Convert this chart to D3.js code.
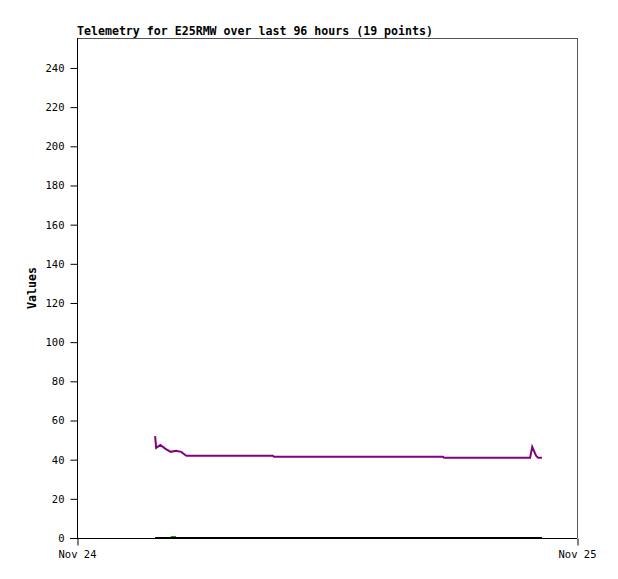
<!DOCTYPE html>
<html><head><meta charset="utf-8">
<script src="https://cdn.jsdelivr.net/npm/d3@7"></script>
<style>body{margin:0;background:#fff}svg{display:block}text{font-family:"DejaVu Sans Mono","Liberation Mono",monospace}</style>
</head><body><div id="c"></div>
<script>
const titleText = "Telemetry for E25RMW over last 96 hours (19 points)";
const yLabel = "Values";
const xDomain = ["2023-11-24T00:00", "2023-11-25T00:00"];
const xTickLabels = ["Nov 24", "Nov 25"];
const yTicks = [0,20,40,60,80,100,120,140,160,180,200,220,240];
const times = ["03:45","03:48","04:00","04:15","04:30","04:45","05:00","05:15","09:24","09:27","13:30","17:34","17:37","20:00","21:45","21:51","22:02","22:08","22:19"];
const purpleVals = [52,46,47.5,45.5,44,44.5,44,42,42,41.5,41.5,41.5,41,41,41,46.5,42,41,41];
const blackVals = [0,0,0,0,0,0,0,0,0,0,0,0,0,0,0,0,0,0,0];
const greenTimes = ["04:30","04:45"];
const greenVals = [0.5,0.5];

const W=618,H=579, m={l:77,r:41,t:38,b:41};
const svg=d3.select("#c").append("svg").attr("width",W).attr("height",H);
const parse=d3.timeParse("%Y-%m-%dT%H:%M");
const day="2023-11-24T";
const x=d3.scaleTime().domain(xDomain.map(parse)).range([m.l,W-m.r]);
const y=d3.scaleLinear().domain([0,255.3]).range([H-m.b,m.t]);

// frame
svg.append("line").attr("x1",m.l).attr("x2",W-m.r).attr("y1",m.t+0.5).attr("y2",m.t+0.5).attr("stroke","#555");
svg.append("line").attr("x1",W-m.r+0.5).attr("x2",W-m.r+0.5).attr("y1",m.t).attr("y2",H-m.b).attr("stroke","#555");

const ya=svg.append("g").attr("transform",`translate(${m.l+0.5},0)`)
  .call(d3.axisLeft(y).tickValues(yTicks).tickSize(7).tickPadding(6).tickFormat(d3.format("d")));
ya.select(".domain").attr("d",`M0,${m.t}V${H-m.b}`).attr("stroke","#000");
ya.selectAll("text").attr("font-size","10.5px").attr("fill","#000");

const xa=svg.append("g").attr("transform",`translate(0,${H-m.b+0.5})`)
  .call(d3.axisBottom(x).tickValues(xDomain.map(parse)).tickSize(7).tickPadding(5).tickFormat((d,i)=>xTickLabels[i]));
xa.select(".domain").attr("d",`M${m.l-7},0H${W-m.r}`).attr("stroke","#000");
xa.selectAll(".tick line").attr("transform","translate(0.5,0)");
xa.selectAll("text").attr("font-size","10.5px").attr("fill","#000");

svg.append("text").attr("x",m.l).attr("y",35).attr("font-size","11.6px").attr("font-weight","bold").text(titleText);
svg.append("text").attr("transform",`translate(36,${(m.t+H-m.b)/2}) rotate(-90)`).attr("text-anchor","middle")
  .attr("font-size","11.6px").attr("font-weight","bold").text(yLabel);

const line=d3.line().x(d=>x(parse(day+d[0]))).y(d=>y(d[1]));
svg.append("path").datum(greenTimes.map((t,i)=>[t,greenVals[i]])).attr("d",line).attr("fill","none").attr("stroke","#00a000").attr("stroke-width",2);
svg.append("path").datum(times.map((t,i)=>[t,blackVals[i]])).attr("d",line).attr("fill","none").attr("stroke","#000").attr("stroke-width",2);
svg.append("path").datum(times.map((t,i)=>[t,purpleVals[i]])).attr("d",line).attr("fill","none").attr("stroke","#800080").attr("stroke-width",2);
</script></body></html>
